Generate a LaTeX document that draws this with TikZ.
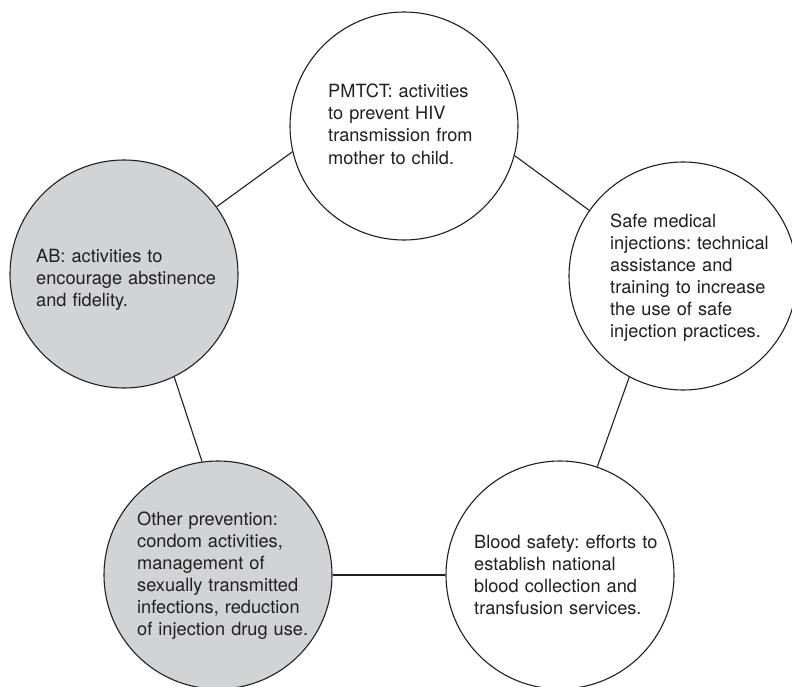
\documentclass[tikz,border=0pt]{standalone}
\usepackage{fontspec}
\setmainfont{TeX Gyre Heros}
\definecolor{ink}{HTML}{231F20}
\definecolor{shade}{HTML}{D1D3D4}
\begin{document}
\begin{tikzpicture}[x=1bp,y=-1bp,
  bubble/.style={circle,draw=ink,line width=1.1bp,minimum size=228bp,inner sep=0pt},
  grey/.style={bubble,fill=shade},
  white/.style={bubble,fill=white},
  label/.style={anchor=base west,inner sep=0pt,text width=240bp,align=left,text=ink,
    font=\fontsize{18.2bp}{22bp}\selectfont\frenchspacing},
  link/.style={draw=ink,line width=1.1bp}]
\useasboundingbox[fill=white] (0,0) rectangle (792,687);
\node[white] (T) at (404,126) {};
\node[grey] (L) at (124,274) {};
\node[white] (R) at (683,276) {};
\node[grey] (BL) at (218,575) {};
\node[white] (BR) at (560,575) {};
\draw[link] (T.-15.6) -- (R.145);
\draw[link] (T.-167) -- (L.36);
\draw[link] (L.-64) -- (BL.98);
\draw[link] (BL.east) -- (BR.west);
\draw[link] (R.-118.6) -- (BR.71);
\node[label] (tT) at (328,98) {PMTCT: activities\\to prevent HIV\\transmission from\\mother to child.};
\node[label] (tL) at (36,262) {AB: activities to\\encourage abstinence\\and fidelity.};
\node[label] (tR) at (610,227) {Safe medical\\injections: technical\\assistance and\\training to increase\\the use of safe\\injection practices.};
\node[label] (tBL) at (137,525) {Other prevention:\\condom activities,\\management of\\sexually transmitted\\infections, reduction\\of injection drug use.};
\node[label] (tBR) at (474,548) {Blood safety: efforts to\\establish national\\blood collection and\\transfusion services.};
\end{tikzpicture}
\end{document}
